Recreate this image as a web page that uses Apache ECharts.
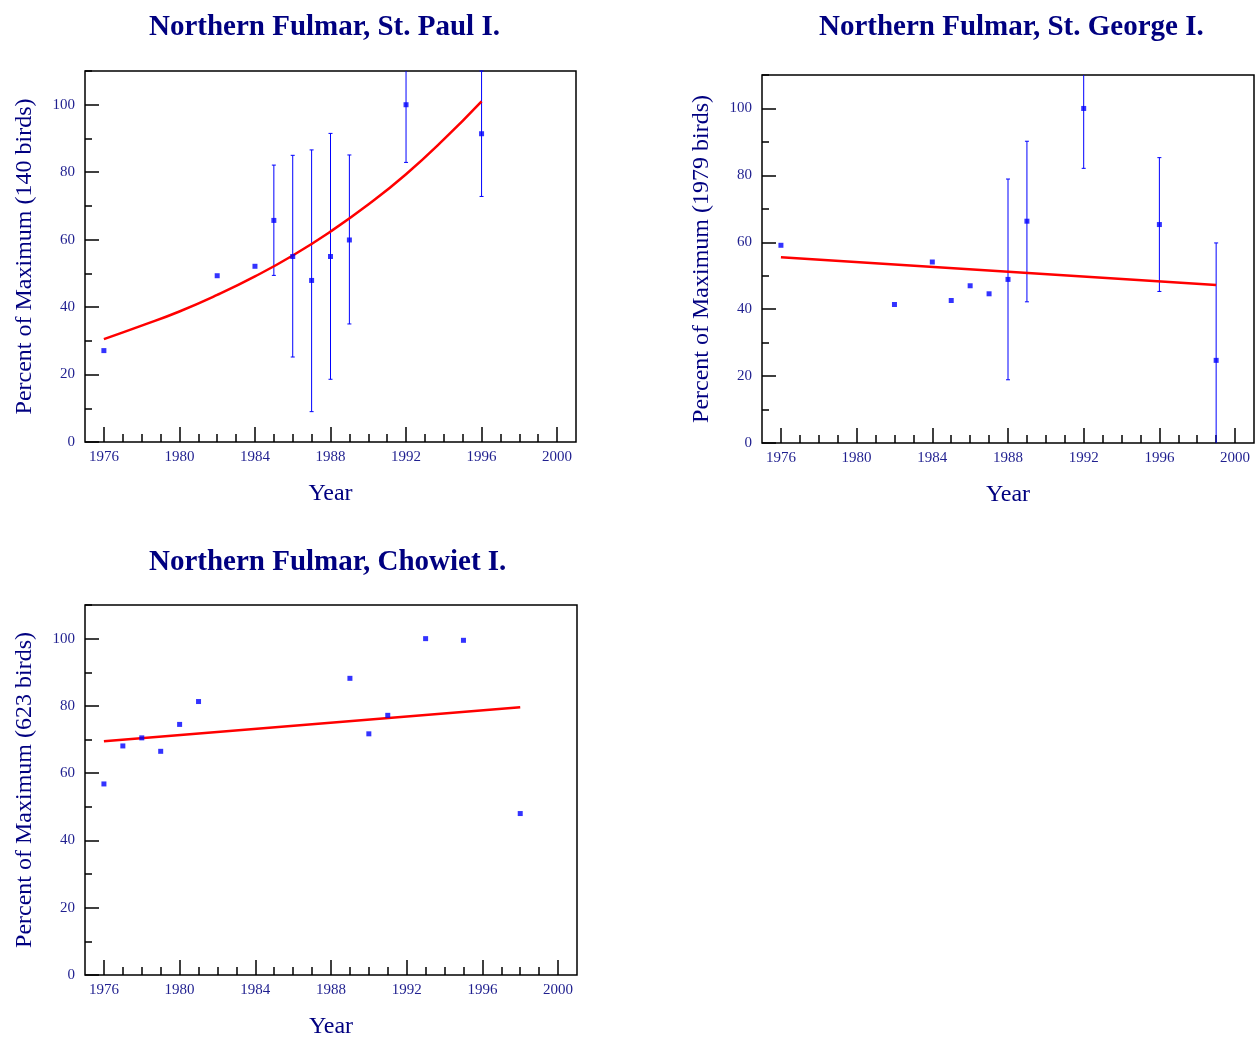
<!DOCTYPE html>
<html>
<head>
<meta charset="utf-8">
<title>Northern Fulmar</title>
<script src="https://cdn.jsdelivr.net/npm/echarts@6/dist/echarts.min.js"></script>
<style>
  html, body { margin: 0; padding: 0; background: #fff; }
  #main { width: 1260px; height: 1040px; }
</style>
</head>
<body>
<div id="main"></div>
<script>
// St. Paul I.
const years1 = [1976, 1982, 1984, 1985, 1986, 1987, 1988, 1989, 1992, 1996]
const pct1 = [27.1, 49.3, 52.1, 65.7, 55.0, 47.9, 55.0, 59.9, 100, 91.4]
const errYears1 = [1985, 1986, 1987, 1988, 1989, 1992, 1996]
const errLow1 = [49.4, 25.2, 9.0, 18.6, 35.0, 82.9, 72.8]
const errHigh1 = [82.1, 85.0, 86.6, 91.5, 85.1, 117.1, 110.0]
const fitYears1 = [1976, 1978, 1980, 1982, 1984, 1986, 1988, 1990, 1992, 1994, 1996]
const fit1 = [30.5, 34.5, 38.7, 43.6, 49.1, 55.3, 62.4, 70.4, 79.4, 89.7, 101]

// St. George I.
const years2 = [1976, 1982, 1984, 1985, 1986, 1987, 1988, 1989, 1992, 1996, 1999]
const pct2 = [59.1, 41.4, 54.1, 42.6, 47.0, 44.6, 48.9, 66.3, 100, 65.3, 24.7]
const errYears2 = [1988, 1989, 1992, 1996, 1999]
const errLow2 = [18.9, 42.2, 82.1, 45.3, -10.4]
const errHigh2 = [78.9, 90.2, 117.9, 85.3, 59.8]
const fitYears2 = [1976, 1999]
const fit2 = [55.5, 47.2]

// Chowiet I.
const years3 = [1976, 1977, 1978, 1979, 1980, 1981, 1989, 1990, 1991, 1993, 1995, 1998]
const pct3 = [56.8, 68.1, 70.5, 66.5, 74.5, 81.3, 88.2, 71.7, 77.2, 100, 99.5, 48.0]
const fitYears3 = [1976, 1998]
const fit3 = [69.5, 79.6]

// axes
const xLabels = [1976, 1980, 1984, 1988, 1992, 1996, 2000]
const yLabels = [0, 20, 40, 60, 80, 100]
const xMinorTicks = []
for (let y = 1976; y <= 2000; y++) xMinorTicks.push(y)
const yMinorTicks = [0, 10, 20, 30, 40, 50, 60, 70, 80, 90, 100, 110]

const X_MIN = 1975, X_MAX = 2001, Y_MIN = 0, Y_MAX = 110

const FONT = 'Liberation Serif'
const NAVY = '#000080'
const LABEL = '#1f1f8f'
const BLUE = '#0000ff'
const RED = '#ff0000'

const panels = [
  { title: 'Northern Fulmar, St. Paul I.', yName: 'Percent of Maximum (140 birds)',
    grid: { left: 85, top: 71, width: 491, height: 371 }, titleX: 144, titleY: 8,
    years: years1, pct: pct1, errYears: errYears1, errLow: errLow1, errHigh: errHigh1,
    fitYears: fitYears1, fit: fit1, smooth: true },
  { title: 'Northern Fulmar, St. George I.', yName: 'Percent of Maximum (1979 birds)',
    grid: { left: 762, top: 75, width: 492, height: 368 }, titleX: 814, titleY: 8,
    years: years2, pct: pct2, errYears: errYears2, errLow: errLow2, errHigh: errHigh2,
    fitYears: fitYears2, fit: fit2, smooth: false },
  { title: 'Northern Fulmar, Chowiet I.', yName: 'Percent of Maximum (623 birds)',
    grid: { left: 85, top: 605, width: 492, height: 373 }, titleX: 144, titleY: 543,
    years: years3, pct: pct3, errYears: [], errLow: [], errHigh: [],
    fitYears: fitYears3, fit: fit3, smooth: false }
]

function renderErr (params, api) {
  const x = api.value(0)
  const lo = api.value(1)
  const hi = api.value(2)
  const loC = Math.max(lo, Y_MIN)
  const hiC = Math.min(hi, Y_MAX)
  const pLo = api.coord([x, loC])
  const pHi = api.coord([x, hiC])
  const style = { stroke: BLUE, lineWidth: 1 }
  const children = [
    { type: 'line', shape: { x1: pLo[0], y1: pLo[1], x2: pHi[0], y2: pHi[1] }, style }
  ]
  if (lo >= Y_MIN) children.push({ type: 'line', shape: { x1: pLo[0] - 2, y1: pLo[1], x2: pLo[0] + 2, y2: pLo[1] }, style })
  if (hi <= Y_MAX) children.push({ type: 'line', shape: { x1: pHi[0] - 2, y1: pHi[1], x2: pHi[0] + 2, y2: pHi[1] }, style })
  return { type: 'group', children }
}

const option = { animation: false, backgroundColor: '#fff', title: [], grid: [], xAxis: [], yAxis: [], series: [] }

panels.forEach((p, i) => {
  option.title.push({
    text: p.title, left: p.titleX, top: p.titleY,
    textStyle: { fontFamily: FONT, fontSize: 29, fontWeight: 'bold', color: NAVY }
  })
  option.grid.push(Object.assign({ show: true, borderColor: '#000', borderWidth: 1.5, backgroundColor: 'transparent' }, p.grid))

  const xi = i * 2, yi = i * 2
  // minor x ticks (every year)
  option.xAxis.push({
    gridIndex: i, type: 'value', position: 'bottom', min: X_MIN, max: X_MAX,
    axisLine: { show: false }, splitLine: { show: false },
    axisTick: { inside: true, length: 8, customValues: xMinorTicks, lineStyle: { color: '#000', width: 1.5 } },
    axisLabel: { show: false }
  })
  // major x ticks + labels
  option.xAxis.push({
    gridIndex: i, type: 'value', position: 'bottom', min: X_MIN, max: X_MAX,
    name: 'Year', nameLocation: 'middle', nameGap: 40,
    nameTextStyle: { fontFamily: FONT, fontSize: 24, color: NAVY },
    axisLine: { show: false }, splitLine: { show: false },
    axisTick: { inside: true, length: 15, customValues: xLabels, lineStyle: { color: '#000', width: 1.5 } },
    axisLabel: { customValues: xLabels, margin: 8, formatter: v => String(v), fontFamily: FONT, fontSize: 15, color: LABEL }
  })
  // minor y ticks
  option.yAxis.push({
    gridIndex: i, type: 'value', position: 'left', min: Y_MIN, max: Y_MAX,
    axisLine: { show: false }, splitLine: { show: false },
    axisTick: { inside: true, length: 7, customValues: yMinorTicks, lineStyle: { color: '#000', width: 1.5 } },
    axisLabel: { show: false }
  })
  // major y ticks + labels
  option.yAxis.push({
    gridIndex: i, type: 'value', position: 'left', min: Y_MIN, max: Y_MAX,
    name: p.yName, nameLocation: 'middle', nameGap: 48,
    nameTextStyle: { fontFamily: FONT, fontSize: 24, color: NAVY },
    axisLine: { show: false }, splitLine: { show: false },
    axisTick: { inside: true, length: 14, customValues: yLabels, lineStyle: { color: '#000', width: 1.5 } },
    axisLabel: { customValues: yLabels, margin: 10, fontFamily: FONT, fontSize: 15, color: LABEL }
  })

  if (p.errYears.length) {
    option.series.push({
      type: 'custom', xAxisIndex: xi, yAxisIndex: yi,
      renderItem: renderErr, encode: { x: 0, y: [1, 2] },
      data: p.errYears.map((y, k) => [y, p.errLow[k], p.errHigh[k]]),
      z: 2
    })
  }
  option.series.push({
    type: 'line', xAxisIndex: xi, yAxisIndex: yi, smooth: p.smooth,
    showSymbol: false, symbol: 'none',
    lineStyle: { color: RED, width: 2.5 },
    data: p.fitYears.map((y, k) => [y, p.fit[k]]),
    z: 3
  })
  option.series.push({
    type: 'scatter', xAxisIndex: xi, yAxisIndex: yi,
    symbol: 'rect', symbolSize: 5,
    itemStyle: { color: BLUE },
    data: p.years.map((y, k) => [y, p.pct[k]]),
    z: 4
  })
})

const chart = echarts.init(document.getElementById('main'))
chart.setOption(option)
</script>
</body>
</html>
